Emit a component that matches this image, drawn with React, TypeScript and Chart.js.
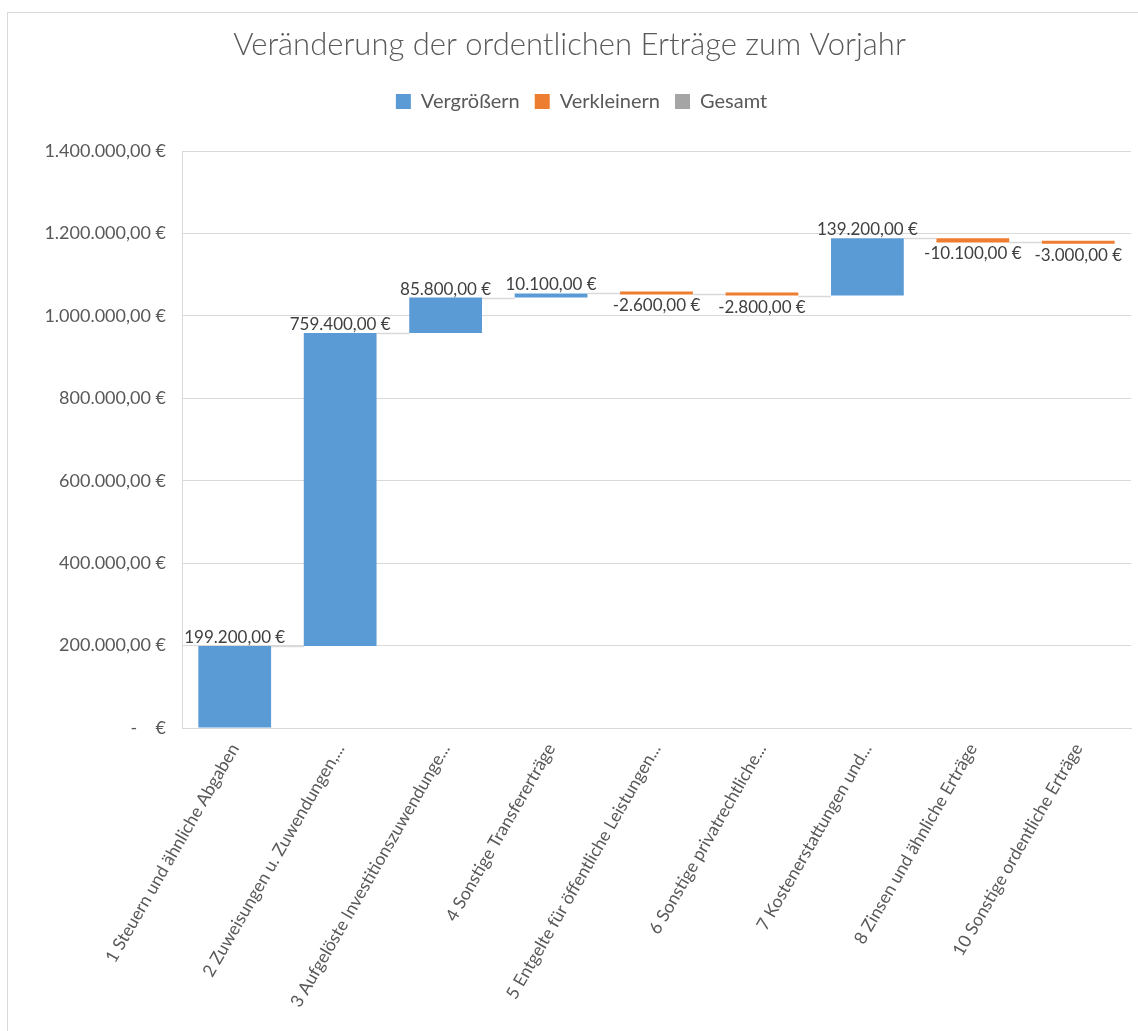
import React, { useEffect, useRef } from "react";
import { Chart, registerables } from "chart.js";

Chart.register(...registerables);

const categories = [
  "1 Steuern und ähnliche Abgaben",
  "2 Zuweisungen u. Zuwendungen,...",
  "3 Aufgelöste Investitionszuwendunge...",
  "4 Sonstige Transfererträge",
  "5 Entgelte für öffentliche Leistungen...",
  "6 Sonstige privatrechtliche...",
  "7 Kostenerstattungen und...",
  "8 Zinsen und ähnliche Erträge",
  "10 Sonstige ordentliche Erträge",
];

const changes = [199200, 759400, 85800, 10100, -2600, -2800, 139200, -10100, -3000];

const yMin = 0;
const yMax = 1400000;
const yStep = 200000;

const seriesNames = ["Vergrößern", "Verkleinern", "Gesamt"];
const seriesColors = ["#5B9BD5", "#ED7D31", "#A5A5A5"];

const titleText = "Veränderung der ordentlichen Erträge zum Vorjahr";

const FONT = "Lato";
const TEXT = "#595959";
const GRID = "#d9d9d9";

function fmt(v: number): string {
  if (v === 0) return "-    €";
  const neg = v < 0;
  const abs = Math.abs(v);
  const ip = Math.floor(abs);
  const dec = Math.round((abs - ip) * 100);
  const intStr = ip.toString().replace(/\B(?=(\d{3})+(?!\d))/g, ".");
  return (neg ? "-" : "") + intStr + "," + dec.toString().padStart(2, "0") + " €";
}

// cumulative starts / ends derived from the changes
const starts: number[] = [];
const ends: number[] = [];
{
  let acc = 0;
  for (const c of changes) {
    starts.push(acc);
    acc += c;
    ends.push(acc);
  }
}

const incData = changes.map((c, i) => (c >= 0 ? [starts[i], ends[i]] : null));
const decData = changes.map((c, i) => (c < 0 ? [ends[i], starts[i]] : null));
const totData = changes.map(() => null);

function barEl(chart: any, i: number) {
  const meta = chart.getDatasetMeta(changes[i] >= 0 ? 0 : 1);
  return meta.data[i];
}

const connectorPlugin = {
  id: "connectors",
  beforeDatasetsDraw(chart: any) {
    const ctx = chart.ctx;
    const y = chart.scales.y;
    ctx.save();
    ctx.strokeStyle = GRID;
    ctx.lineWidth = 1.5;
    for (let i = 0; i < changes.length - 1; i++) {
      const a = barEl(chart, i);
      const b = barEl(chart, i + 1);
      if (!a || !b) continue;
      const yy = Math.round(y.getPixelForValue(ends[i])) + 0.5;
      ctx.beginPath();
      ctx.moveTo(a.x + a.width / 2, yy);
      ctx.lineTo(b.x - b.width / 2, yy);
      ctx.stroke();
    }
    ctx.restore();
  },
};

const labelPlugin = {
  id: "valueLabels",
  afterDatasetsDraw(chart: any) {
    const ctx = chart.ctx;
    ctx.save();
    ctx.font = `17px ${FONT}`;
    ctx.fillStyle = "#404040";
    ctx.textAlign = "center";
    ctx.textBaseline = "alphabetic";
    for (let i = 0; i < changes.length; i++) {
      const el = barEl(chart, i);
      if (!el) continue;
      const top = Math.min(el.y, el.base);
      const bottom = Math.max(el.y, el.base);
      if (changes[i] >= 0) {
        ctx.fillText(fmt(changes[i]), el.x, top - 3);
      } else {
        ctx.fillText(fmt(changes[i]), el.x, bottom + 17);
      }
    }
    ctx.restore();
  },
};

// the legend in the reference sits slightly right of the title's centre
const legendShiftPlugin = {
  id: "legendShift",
  afterLayout(chart: any) {
    if (chart.legend) {
      chart.legend.left += 12;
      chart.legend.right += 12;
    }
  },
};

export default function App() {
  const ref = useRef<HTMLCanvasElement | null>(null);

  useEffect(() => {
    if (!ref.current) return;
    Chart.defaults.font.family = FONT;
    const chart = new Chart(ref.current, {
      type: "bar",
      data: {
        labels: categories,
        datasets: [
          {
            label: seriesNames[0],
            data: incData as any,
            backgroundColor: seriesColors[0],
            borderColor: seriesColors[0],
            borderWidth: 0,
            grouped: false,
            minBarLength: 3,
          } as any,
          {
            label: seriesNames[1],
            data: decData as any,
            backgroundColor: seriesColors[1],
            borderColor: seriesColors[1],
            borderWidth: 0,
            grouped: false,
            minBarLength: 3,
          } as any,
          {
            label: seriesNames[2],
            data: totData as any,
            backgroundColor: seriesColors[2],
            borderColor: seriesColors[2],
            borderWidth: 0,
            grouped: false,
          } as any,
        ],
      },
      options: {
        responsive: false,
        animation: false,
        datasets: { bar: { categoryPercentage: 1, barPercentage: 0.69 } } as any,
        layout: { padding: { left: 0, right: 7, top: 0, bottom: 0 } },
        plugins: {
          title: {
            display: true,
            text: titleText,
            color: TEXT,
            font: { family: FONT, size: 31, weight: "300" },
            padding: { top: 13.4, bottom: 12.9 },
          } as any,
          subtitle: {
            display: true,
            text: "",
            font: { size: 10 },
            padding: { top: 0, bottom: 17.5 },
            weight: 500,
          } as any,
          legend: {
            display: true,
            labels: {
              boxWidth: 15,
              boxHeight: 15,
              padding: 15,
              color: TEXT,
              font: { family: FONT, size: 20 },
            },
          },
          tooltip: { enabled: false },
        },
        scales: {
          x: {
            grid: { display: false, drawTicks: false },
            border: { display: true, color: GRID },
            ticks: {
              autoSkip: false,
              maxRotation: 60,
              minRotation: 60,
              padding: 12,
              color: TEXT,
              font: { family: FONT, size: 17.5 },
            },
            afterFit: (s: any) => {
              s.height = 303;
            },
          },
          y: {
            min: yMin,
            max: yMax,
            grid: { color: GRID, drawTicks: false },
            border: { display: true, color: GRID },
            ticks: {
              stepSize: yStep,
              padding: 16,
              color: TEXT,
              font: { family: FONT, size: 18 },
              callback: (v: any) => fmt(Number(v)),
            },
            afterFit: (s: any) => {
              s.width = 174;
            },
          },
        },
      },
      plugins: [connectorPlugin, labelPlugin, legendShiftPlugin],
    });
    return () => chart.destroy();
  }, []);

  return (
    <div
      style={{
        position: "absolute",
        left: 7,
        top: 12,
        borderLeft: `1px solid ${GRID}`,
        borderTop: `1px solid ${GRID}`,
        background: "#fff",
      }}
    >
      <canvas ref={ref} width={1130} height={1018} style={{ display: "block" }} />
    </div>
  );
}
